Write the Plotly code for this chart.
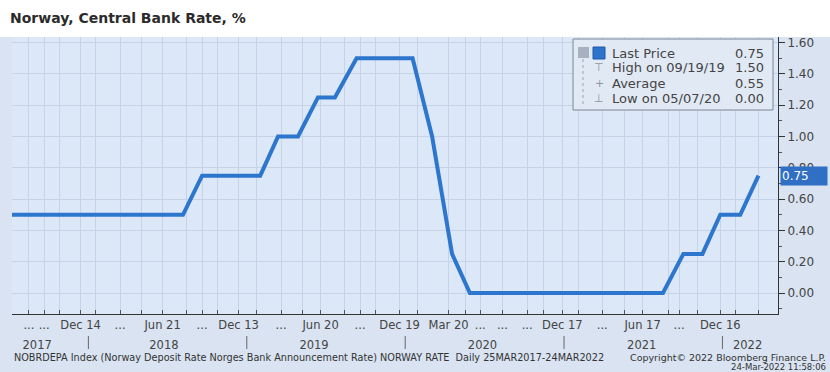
import plotly.graph_objects as go

# ---------------- data ----------------
title_text = "Norway, Central Bank Rate, %"

dates = ["2017-07-09", "2018-08-07", "2018-09-20", "2019-02-01", "2019-03-14",
         "2019-04-29", "2019-06-14", "2019-07-23", "2019-09-11", "2020-01-18",
         "2020-03-03", "2020-04-18", "2020-05-29", "2021-08-17", "2021-10-03",
         "2021-11-16", "2021-12-27", "2022-02-11", "2022-03-25"]
rates = [0.50, 0.50, 0.75, 0.75, 1.00,
         1.00, 1.25, 1.25, 1.50, 1.50,
         1.00, 0.25, 0.00, 0.00, 0.25,
         0.25, 0.50, 0.50, 0.75]

tick_dates = ["2017-08-17", "2017-09-21", "2017-10-26", "2017-12-14",
              "2018-01-18", "2018-03-15", "2018-05-03", "2018-06-21", "2018-08-16",
              "2018-09-20", "2018-10-25", "2018-12-13",
              "2019-01-24", "2019-03-21", "2019-05-09", "2019-06-20", "2019-08-15",
              "2019-09-19", "2019-10-24", "2019-12-19",
              "2020-01-30", "2020-04-10", "2020-05-18", "2020-06-22", "2020-08-12",
              "2020-10-08", "2020-11-15", "2020-12-28",
              "2021-02-04", "2021-03-30", "2021-05-20", "2021-07-01", "2021-08-30",
              "2021-09-23", "2021-11-04", "2021-12-27",
              "2022-01-31", "2022-03-24"]
tick_labels = ["...", "...", "", "Dec 14",
               "", "...", "", "Jun 21", "",
               "...", "", "Dec 13",
               "", "...", "", "Jun 20", "",
               "...", "", "Dec 19",
               "", "Mar 20", "", "...", "...",
               "...", "", "Dec 17",
               "", "...", "", "Jun 17", "",
               "...", "", "Dec 16",
               "", ""]

year_label_dates = ["2017-09-05", "2018-06-24", "2019-06-05", "2020-06-27",
                    "2021-06-29", "2022-02-28"]
year_labels = ["2017", "2018", "2019", "2020", "2021", "2022"]
year_bounds = ["2018-01-01", "2019-01-01", "2020-01-01", "2021-01-01", "2022-01-01"]

x_range = ["2017-07-09", "2022-05-09"]
y_range = [-0.134, 1.636]

legend_labels = ["Last Price", "High on 09/19/19", "Average", "Low on 05/07/20"]
legend_values = [0.75, 1.50, 0.55, 0.00]
last_value = 0.75

footer_left = ("NOBRDEPA Index (Norway Deposit Rate Norges Bank Announcement Rate) "
               "NORWAY RATE  Daily 25MAR2017-24MAR2022")
footer_right = "Copyright\u00a9 2022 Bloomberg Finance L.P."
footer_time = "24-Mar-2022 11:58:06"

# ---------------- layout helpers ----------------
W, H = 830, 372
ML, MR, MT, MB = 12, 52, 37, 0
PW, PH = W - ML - MR, H - MT - MB


def px(X):
    return (X - ML) / PW


def py(Y):
    return (H - MB - Y) / PH


BG = "#dce7f7"
PAPER = "#d9e3f1"
GRID = "#c6d3e7"
LINE = "#2d76cd"
TXT = "#3a3a3a"
FONT = "DejaVu Sans"

fig = go.Figure()
fig.add_trace(go.Scatter(x=dates, y=rates, mode="lines",
                         line=dict(color=LINE, width=4), hoverinfo="skip",
                         showlegend=False))
# dummy trace for the year axis
fig.add_trace(go.Scatter(x=x_range, y=[None, None], xaxis="x2", yaxis="y",
                         mode="lines", showlegend=False, hoverinfo="skip"))

fig.update_layout(
    width=W, height=H,
    margin=dict(l=ML, r=MR, t=MT, b=MB, pad=0),
    paper_bgcolor=PAPER, plot_bgcolor=BG,
    font=dict(family=FONT, color=TXT, size=12),
    title=dict(text="<b>" + title_text + "</b>", x=10 / W, xref="container",
               xanchor="left", y=1 - 18 / H, yref="container", yanchor="middle",
               font=dict(family=FONT, size=14, color="#2b2b2b")),
    xaxis=dict(type="date", range=x_range, tickmode="array",
               tickvals=tick_dates, ticktext=tick_labels, tickangle=0,
               ticks="inside", ticklen=4, tickcolor="#555555",
               showline=True, linecolor="#333333", linewidth=1,
               showgrid=True, gridcolor=GRID, gridwidth=1,
               tickfont=dict(size=11.5, color="#444444"), zeroline=False,
               anchor="y"),
    xaxis2=dict(type="date", range=x_range, overlaying="x", anchor="free",
                position=py(336), side="bottom", showline=False, showgrid=False,
                tickmode="array", tickvals=year_label_dates, ticktext=year_labels,
                ticks="", tickangle=0, tickfont=dict(size=11.5, color="#444444"),
                zeroline=False),
    yaxis=dict(side="right", range=y_range, domain=[py(314), 1],
               tickmode="linear", tick0=0, dtick=0.2, tickformat=".2f",
               ticks="outside", ticklen=6, tickcolor="#333333",
               minor=dict(dtick=0.1, ticks="outside", ticklen=3,
                          tickcolor="#555555", showgrid=False),
               showline=True, linecolor="#333333", linewidth=1,
               showgrid=True, gridcolor=GRID, gridwidth=1, zeroline=False,
               tickfont=dict(size=12, color="#444444")),
)

shapes = []
# white title band
shapes.append(dict(type="rect", xref="paper", yref="paper",
                   x0=px(0), x1=px(W), y0=1, y1=py(0),
                   fillcolor="white", line=dict(width=0), layer="below"))
# year separators
for b in year_bounds:
    shapes.append(dict(type="line", xref="x", yref="paper", x0=b, x1=b,
                       y0=py(349), y1=py(336),
                       line=dict(color="#666666", width=1)))
# legend box
shapes.append(dict(type="rect", xref="paper", yref="paper",
                   x0=px(573), x1=px(773), y0=py(110), y1=py(39),
                   fillcolor="#e1e9f5", line=dict(color="#7d8796", width=1)))
# legend icons
shapes.append(dict(type="rect", xref="paper", yref="paper",
                   x0=px(578), x1=px(589), y0=py(58), y1=py(47),
                   fillcolor="#a7b1bf", line=dict(width=0)))
shapes.append(dict(type="line", xref="paper", yref="paper",
                   x0=px(583), x1=px(583), y0=py(104), y1=py(58),
                   line=dict(color="#9aa4b3", width=1, dash="dot")))
shapes.append(dict(type="rect", xref="paper", yref="paper",
                   x0=px(593), x1=px(605), y0=py(59), y1=py(47),
                   fillcolor="#2f74cc", line=dict(color="#1f5aa6", width=1)))
fig.update_layout(shapes=shapes)

ann = []
row_y = [53, 68, 83, 98]
icons = ["", "\u22a4", "+", "\u22a5"]
for lab, val, yy, ic in zip(legend_labels, legend_values, row_y, icons):
    ann.append(dict(xref="paper", yref="paper", x=px(610), y=py(yy),
                    xanchor="left", yanchor="middle", showarrow=False,
                    text=lab, font=dict(size=13, color="#444444")))
    ann.append(dict(xref="paper", yref="paper", x=px(766), y=py(yy),
                    xanchor="right", yanchor="middle", showarrow=False,
                    text=f"{val:.2f}", font=dict(size=13, color="#444444")))
    if ic:
        ann.append(dict(xref="paper", yref="paper", x=px(599), y=py(yy),
                        xanchor="center", yanchor="middle", showarrow=False,
                        text=ic, font=dict(size=11, color="#8d96a3")))

# last price tag
ann.append(dict(xref="paper", yref="y", x=1, y=last_value, xanchor="left",
                yanchor="middle", showarrow=False, xshift=2,
                text=f"{last_value:.2f}", font=dict(size=12, color="white"),
                bgcolor="#2f6fc4", width=44, height=16, align="left",
                borderpad=1))

# footer
ann.append(dict(xref="paper", yref="paper", x=px(12), y=py(357),
                xanchor="left", yanchor="middle", showarrow=False,
                text=footer_left, font=dict(size=9.7, color="#333333")))
ann.append(dict(xref="paper", yref="paper", x=px(828), y=py(357),
                xanchor="right", yanchor="middle", showarrow=False,
                text=footer_right, font=dict(size=9.5, color="#333333")))
ann.append(dict(xref="paper", yref="paper", x=px(828), y=py(367),
                xanchor="right", yanchor="middle", showarrow=False,
                text=footer_time, font=dict(size=8.5, color="#333333")))
fig.update_layout(annotations=ann)

fig.write_html("out.html")
